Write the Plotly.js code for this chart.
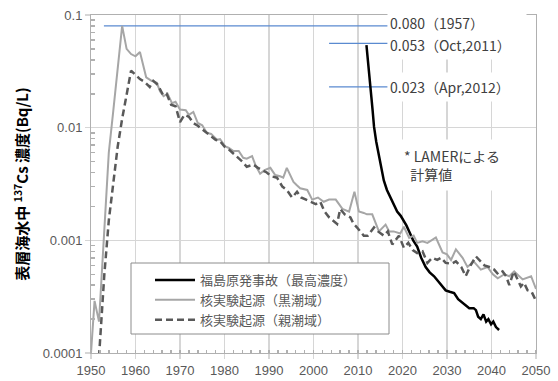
<!DOCTYPE html>
<html><head><meta charset="utf-8">
<script src="https://cdn.plot.ly/plotly-3.0.1.min.js"></script>
<style>html,body{margin:0;padding:0;background:#fff}#chart{width:558px;height:381px}</style>
</head><body><div id="chart"></div>
<script>
// 福島原発事故（最高濃度）
const fukuYears = [2011.9,2012.2,2012.5,2012.8,2013.0,2013.3,2013.6,2014.1,2014.7,2015.2,2015.8,2016.5,2017.3,2018.0,2018.8,2019.6,2020.3,2020.9,2021.5,2022.4,2023.3,2024.2,2025.2,2026.1,2027.1,2028.4,2029.7,2030.6,2031.6,2032.5,2033.5,2034.3,2035.0,2036.0,2036.5,2037.0,2037.6,2038.2,2038.8,2039.3,2039.9,2040.4,2041.0,2041.7];
const fukuVals = [0.054,0.042,0.0325,0.024,0.0188,0.014,0.0102,0.0075,0.0055,0.0043,0.0034,0.0028,0.0024,0.0021,0.0018,0.00165,0.0015,0.00135,0.0012,0.001,0.00088,0.0007,0.00058,0.00052,0.00048,0.00042,0.00036,0.00035,0.00034,0.0003,0.00028,0.00026,0.00025,0.00025,0.00024,0.00021,0.0002,0.00022,0.00019,0.0002,0.00018,0.00019,0.00017,0.00016];
// 核実験起源（黒潮域）
const kuroYears = [1950.0,1950.8,1951.8,1953.0,1954.0,1955.0,1956.0,1957.0,1958.0,1959.0,1960.0,1961.0,1962.4,1963.6,1964.8,1965.5,1966.3,1967.2,1968.2,1969.0,1970.0,1971.3,1972.0,1973.0,1974.0,1975.0,1976.0,1977.0,1978.3,1979.0,1980.2,1981.0,1982.0,1983.2,1984.2,1985.0,1986.2,1987.0,1988.0,1989.0,1990.3,1991.4,1992.5,1993.2,1994.0,1995.5,1996.2,1997.0,1998.6,1999.7,2001.0,2002.3,2003.5,2005.0,2006.5,2008.0,2009.2,2010.2,2011.3,2012.0,2013.2,2014.7,2016.2,2017.0,2018.0,2019.5,2020.3,2021.5,2022.5,2023.3,2024.5,2025.6,2026.5,2027.5,2029.0,2030.0,2030.9,2032.0,2033.5,2034.6,2036.0,2037.6,2039.1,2040.3,2041.4,2042.9,2044.0,2045.1,2047.0,2048.9,2050.0];
const kuroVals = [0.0001,0.00029,0.00019,0.0011,0.006,0.014,0.033,0.08,0.05,0.045,0.043,0.047,0.028,0.026,0.025,0.021,0.019,0.02,0.0165,0.017,0.0145,0.0143,0.013,0.0138,0.011,0.0105,0.009,0.0088,0.0078,0.0079,0.0068,0.0066,0.0062,0.0062,0.0054,0.0053,0.0056,0.0046,0.0039,0.0042,0.0044,0.0038,0.0037,0.0036,0.0044,0.0033,0.0031,0.0029,0.0028,0.0023,0.0024,0.0022,0.0023,0.0023,0.0019,0.0018,0.0027,0.0018,0.00175,0.0017,0.0017,0.0012,0.00138,0.0012,0.0012,0.00115,0.00132,0.00105,0.0011,0.00095,0.00098,0.00095,0.001,0.00106,0.00078,0.00075,0.00067,0.00083,0.0007,0.00058,0.00065,0.00055,0.00058,0.0005,0.00046,0.0005,0.00048,0.00053,0.00045,0.00048,0.00037];
// 核実験起源（親潮域）
const oyaYears = [1951.0,1952.0,1953.0,1954.0,1955.0,1956.0,1957.0,1958.0,1959.0,1960.2,1961.0,1962.0,1963.2,1964.0,1965.0,1966.2,1967.0,1968.0,1969.0,1970.0,1971.0,1972.0,1973.0,1974.0,1975.3,1976.5,1978.0,1979.0,1980.0,1981.0,1982.0,1983.0,1984.0,1985.0,1986.5,1987.5,1988.5,1989.5,1990.5,1991.8,1993.0,1994.0,1995.2,1996.3,1997.2,1998.2,1999.2,2000.5,2001.5,2002.5,2003.5,2004.5,2005.3,2006.0,2007.0,2008.3,2009.0,2009.8,2011.3,2012.2,2013.6,2014.5,2015.8,2016.7,2017.7,2019.2,2020.3,2021.3,2022.3,2023.3,2024.5,2025.6,2026.7,2027.8,2028.7,2029.7,2031.0,2032.0,2033.2,2034.2,2035.3,2036.5,2037.5,2038.4,2039.5,2040.6,2041.5,2042.5,2043.3,2044.0,2045.0,2045.8,2046.6,2047.3,2048.1,2049.0,2050.0];
const oyaVals = [0.00003,0.00013,0.0005,0.0015,0.0031,0.0068,0.012,0.019,0.032,0.029,0.027,0.0256,0.023,0.026,0.024,0.0195,0.02,0.016,0.0155,0.0112,0.013,0.0125,0.011,0.0104,0.0095,0.0088,0.0078,0.0076,0.0068,0.0064,0.0059,0.0055,0.005,0.0045,0.0047,0.0044,0.0042,0.004,0.0037,0.0036,0.003,0.0028,0.0024,0.0027,0.0024,0.0023,0.0022,0.0021,0.0022,0.0018,0.0016,0.0015,0.0014,0.0019,0.0017,0.0016,0.0014,0.0013,0.0011,0.0011,0.0013,0.0012,0.0011,0.0012,0.00092,0.0011,0.00086,0.00095,0.00082,0.00077,0.0008,0.00063,0.0007,0.00067,0.0007,0.00063,0.00062,0.00065,0.00058,0.00048,0.0006,0.00072,0.00065,0.0006,0.00058,0.00055,0.0005,0.00053,0.00048,0.0004,0.00053,0.00045,0.00039,0.00042,0.00036,0.00035,0.00029];
// reference levels (blue lines)
const refLine1080Years = [1952.9, 2016.7];
const refLine1080Vals = [0.08, 0.08];
const refLine053Years = [2003.5, 2016.7];
const refLine053Vals = [0.056, 0.056];
const refLine023Years = [2003.5, 2016.7];
const refLine023Vals = [0.023, 0.023];
const refLabels = ['0.080（1957）', '0.053（Oct,2011）', '0.023（Apr,2012）'];
const noteText = '* LAMERによる<br>\u00a0\u00a0計算値';
const seriesNames = ['福島原発事故（最高濃度）', '核実験起源（黒潮域）', '核実験起源（親潮域）'];
const yTickVals = [0.0001, 0.001, 0.01, 0.1];
const yTickText = ['0.0001', '0.001', '0.01', '0.1'];
const xTickVals = [1950,1960,1970,1980,1990,2000,2010,2020,2030,2040,2050];
const yTitle = '表層海水中 <sup>137</sup>Cs 濃度(Bq/L)';

const minorY = [];
[0.0001, 0.001, 0.01].forEach(d => { for (let k = 2; k <= 9; k++) minorY.push(d * k); });

const blue = '#5a8ad0';
const traces = [
  {x: refLine1080Years, y: refLine1080Vals, mode: 'lines', line: {color: blue, width: 1.3}, showlegend: false, hoverinfo: 'skip'},
  {x: refLine053Years, y: refLine053Vals, mode: 'lines', line: {color: blue, width: 1.3}, showlegend: false, hoverinfo: 'skip'},
  {x: refLine023Years, y: refLine023Vals, mode: 'lines', line: {color: blue, width: 1.3}, showlegend: false, hoverinfo: 'skip'},
  {x: fukuYears, y: fukuVals, name: seriesNames[0], mode: 'lines', line: {color: '#000000', width: 2.5}},
  {x: kuroYears, y: kuroVals, name: seriesNames[1], mode: 'lines', line: {color: '#a6a6a6', width: 2}},
  {x: oyaYears, y: oyaVals, name: seriesNames[2], mode: 'lines', line: {color: '#595959', width: 2.5, dash: '7px,4px'}}
];

const fontTick = {family: 'Liberation Sans, Arial, sans-serif', size: 13, color: '#595959'};
const cjk = 'Noto Sans CJK JP, sans-serif';

const L = 91, R = 536, T = 15, B = 353;
const px2xp = p => (p - L) / (R - L);
const px2yp = p => (B - p) / (B - T);

const layout = {
  width: 558, height: 381,
  margin: {l: L, r: 558 - R, t: T, b: 381 - B, pad: 0},
  paper_bgcolor: '#fff', plot_bgcolor: '#fff',
  showlegend: true,
  xaxis: {
    range: [1950, 2050], tickvals: xTickVals, tickfont: fontTick,
    showgrid: true, gridcolor: '#d6d6d6', gridwidth: 1.5,
    showline: true, linecolor: '#b0b0b0', linewidth: 1, mirror: true,
    ticks: 'outside', ticklen: 5, tickcolor: '#d6d6d6', tickwidth: 1.5,
    zeroline: false, fixedrange: true,
    minor: {dtick: 2, tick0: 1950, ticks: 'inside', ticklen: 3, tickcolor: '#b0b0b0', showgrid: false}
  },
  yaxis: {
    type: 'log', range: [-4, -1], tickvals: yTickVals, ticktext: yTickText, tickfont: fontTick,
    showgrid: true, gridcolor: '#d6d6d6', gridwidth: 1.5,
    showline: true, linecolor: '#b0b0b0', linewidth: 1, mirror: true,
    ticks: 'outside', ticklen: 5, tickcolor: '#d6d6d6', tickwidth: 1.5,
    zeroline: false, fixedrange: true,
    minor: {tickvals: minorY, ticks: 'inside', ticklen: 4, tickcolor: '#b0b0b0', showgrid: false},
    title: {text: yTitle, font: {family: cjk, size: 15, color: '#000', weight: 'bold'}, standoff: 10}
  },
  legend: {
    x: px2xp(150), y: px2yp(265), xanchor: 'left', yanchor: 'top',
    bgcolor: 'rgba(0,0,0,0)', borderwidth: 0,
    font: {family: cjk, size: 13, color: '#595959'},
    itemwidth: 40, tracegroupgap: 0
  },
  shapes: [
    {type: 'rect', xref: 'paper', yref: 'paper', x0: px2xp(131), x1: px2xp(389), y0: px2yp(334), y1: px2yp(263),
     fillcolor: '#fff', line: {color: '#8c8c8c', width: 1}, layer: 'above'}
  ],
  annotations: [
    {xref: 'paper', yref: 'paper', x: px2xp(387), y: px2yp(23), xanchor: 'left', yanchor: 'middle', text: refLabels[0], showarrow: false, align: 'left', width: 134, height: 22, bgcolor: '#fff', borderpad: 2, font: {family: cjk, size: 14, color: '#404040'}},
    {xref: 'paper', yref: 'paper', x: px2xp(387), y: px2yp(45), xanchor: 'left', yanchor: 'middle', text: refLabels[1], showarrow: false, align: 'left', width: 134, height: 24, bgcolor: '#fff', borderpad: 2, font: {family: cjk, size: 14, color: '#404040'}},
    {xref: 'paper', yref: 'paper', x: px2xp(387), y: px2yp(87), xanchor: 'left', yanchor: 'middle', text: refLabels[2], showarrow: false, align: 'left', width: 116, height: 24, bgcolor: '#fff', borderpad: 2, font: {family: cjk, size: 14, color: '#404040'}},
    {xref: 'paper', yref: 'paper', x: px2xp(401), y: px2yp(165), xanchor: 'left', yanchor: 'middle', text: noteText, showarrow: false, align: 'left', width: 100, height: 46, bgcolor: '#fff', borderpad: 2, font: {family: cjk, size: 14, color: '#404040'}}
  ]
};

Plotly.newPlot('chart', traces, layout, {displayModeBar: false, staticPlot: true});
</script></body></html>
